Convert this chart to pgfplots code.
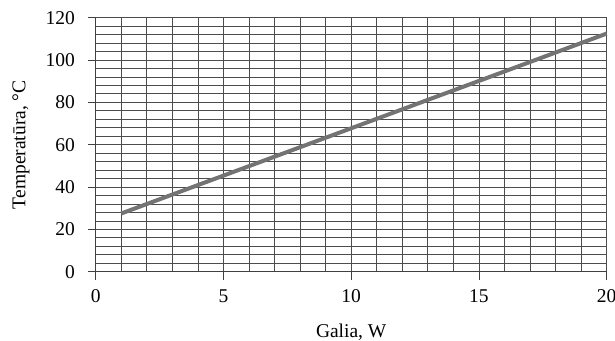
\documentclass[border=0pt]{standalone}
\usepackage{fontspec}
\setmainfont{Liberation Serif}
\usepackage{pgfplots}
\pgfplotsset{compat=1.18}
\begin{document}
\fontsize{19.5bp}{23bp}\selectfont
\begin{tikzpicture}
\begin{axis}[
  name=ax,
  scale only axis,
  width=511bp, height=254bp,
  xmin=0, xmax=20, ymin=0, ymax=120,
  xtick={0,5,...,20}, ytick={0,20,...,120},
  minor x tick num=4, minor y tick num=4,
  grid=both,
  major grid style={draw=black!70, line width=0.8bp},
  minor grid style={draw=black!70, line width=0.8bp},
  axis x line=bottom, axis y line=left,
  axis line style={-, draw=black!75, line width=0.8bp},
  tick align=outside,
  major tick length=8bp, minor tick length=0pt,
  tick style={draw=black!75, line width=0.8bp},
  /pgf/number format/assume math mode=true,
  ticklabel style={font=\fontsize{19.5bp}{23bp}\selectfont},
  xticklabel style={yshift=-3bp},
  yticklabel style={xshift=-6bp},
  label style={font=\fontsize{19.5bp}{23bp}\selectfont},
  xlabel={Galia, W},
  ylabel={Temperatūra, °C},
  xlabel style={yshift=-8bp},
  ylabel style={yshift=3bp},
  clip=false,
]
\addplot[draw=black!55, line width=4bp] coordinates {(1,27.5) (20,112.5)};
\end{axis}
\pgfresetboundingbox
\path (ax.south west) ++(-95.7bp,-69.3bp) rectangle ++(615bp,341bp);
\end{tikzpicture}
\end{document}
